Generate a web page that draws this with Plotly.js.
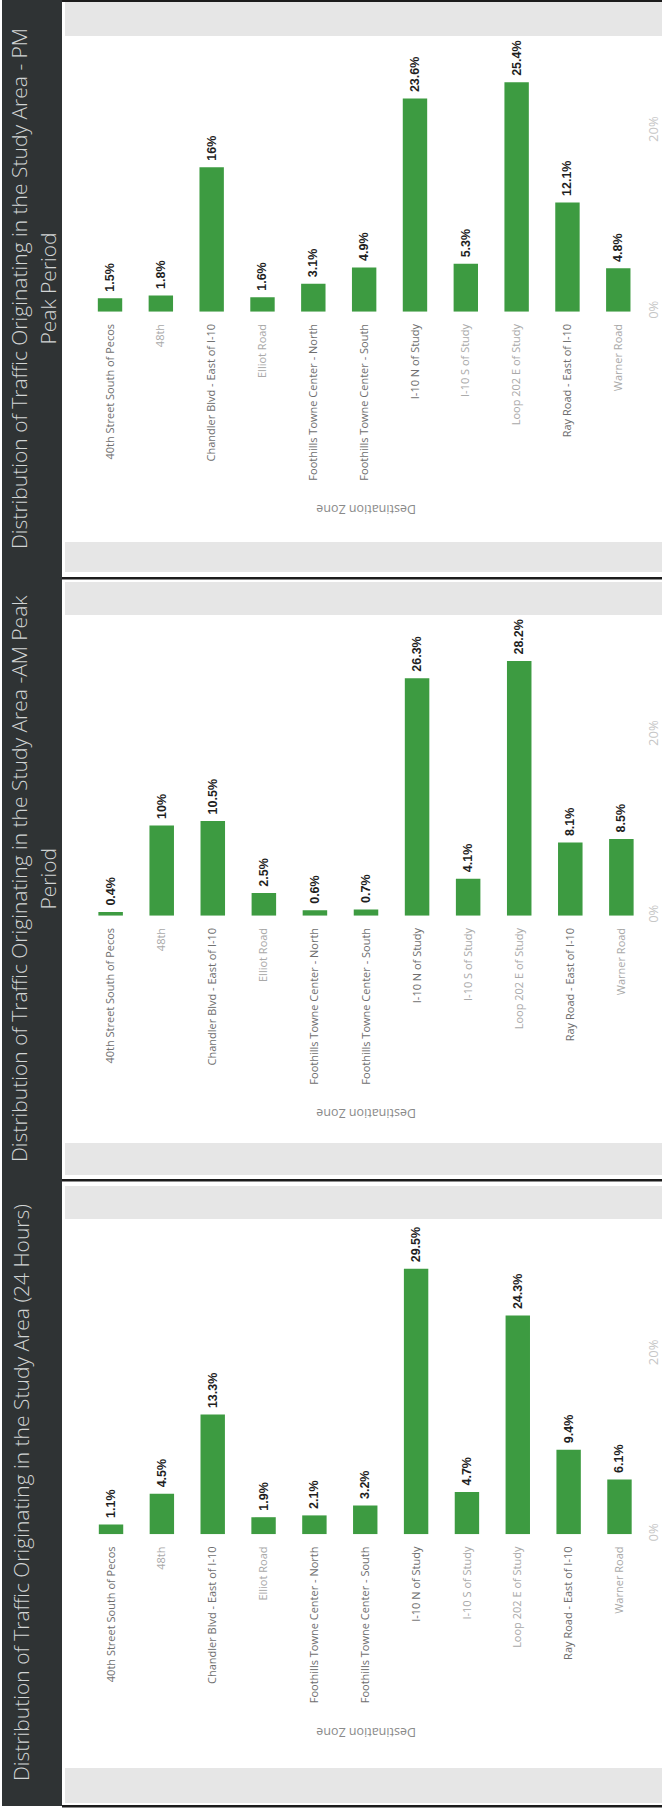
<!DOCTYPE html>
<html><head><meta charset="utf-8">
<script src="https://cdn.plot.ly/plotly-3.0.1.min.js"></script>
<style>html,body{margin:0;padding:0;background:#fff;} #chart{width:662px;height:1808px;}</style>
</head><body><div id="chart"></div>
<script>
// ---- data ----
const categories = ["40th Street South of Pecos", "48th", "Chandler Blvd - East of I-10", "Elliot Road",
  "Foothills Towne Center - North", "Foothills Towne Center - South", "I-10 N of Study", "I-10 S of Study",
  "Loop 202 E of Study", "Ray Road - East of I-10", "Warner Road"];
const pmPeakShare = [1.5, 1.8, 16, 1.6, 3.1, 4.9, 23.6, 5.3, 25.4, 12.1, 4.8];
const amPeakShare = [0.4, 10, 10.5, 2.5, 0.6, 0.7, 26.3, 4.1, 28.2, 8.1, 8.5];
const allDayShare = [1.1, 4.5, 13.3, 1.9, 2.1, 3.2, 29.5, 4.7, 24.3, 9.4, 6.1];
const pmTitle = ["Distribution of Traffic Originating in the Study Area - PM", "Peak Period"];
const amTitle = ["Distribution of Traffic Originating in the Study Area -AM Peak", "Period"];
const allDayTitle = ["Distribution of Traffic Originating in the Study Area (24 Hours)"];
const axisTitle = "Destination Zone";
const valueTicks = [0, 20];

// ---- layout helpers (pixel -> paper) ----
const W = 662, H = 1808;
const px = x => x / W;
const py = y => 1 - y / H;

const panels = [
  {vals: pmPeakShare, title: pmTitle, top: 0, bottom: 578, band1: [2, 36], band2: [542, 572],
   base: 311.7, plotTop: 36, x0: 84.6, x1: 643.7, ppp: 9.03},
  {vals: amPeakShare, title: amTitle, top: 578, bottom: 1180, band1: [582, 615], band2: [1143, 1175],
   base: 915.7, plotTop: 615, x0: 85.1, x1: 646.9, ppp: 9.03},
  {vals: allDayShare, title: allDayTitle, top: 1180, bottom: 1806, band1: [1186, 1219], band2: [1768, 1803],
   base: 1534.3, plotTop: 1219, x0: 85.6, x1: 644.9, ppp: 9.0}
];

// label shading as seen in the scanned reference (styling only)
const lightLabel = new Set([1, 3, 7, 8, 10]);
const shadedTickText = categories.map((c, i) =>
  '<span style="color:' + (lightLabel.has(i) ? '#a9a9a9' : '#6e6e6e') + '">' + c + '</span>');

const GREEN = '#3d9b41';
const data = [];
const layout = {
  width: W, height: H, margin: {l: 0, r: 0, t: 0, b: 0},
  paper_bgcolor: '#ffffff', plot_bgcolor: 'rgba(0,0,0,0)',
  showlegend: false, bargap: 0.52,
  shapes: [], annotations: []
};

// dark header strip
layout.shapes.push({type: 'rect', xref: 'paper', yref: 'paper', x0: px(2), x1: px(62), y0: py(1806), y1: py(0),
  fillcolor: '#2f3334', line: {width: 0}, layer: 'below'});

panels.forEach((p, i) => {
  const n = i === 0 ? '' : String(i + 1);
  data.push({
    type: 'bar', x: categories, y: p.vals, xaxis: 'x' + n, yaxis: 'y' + n,
    marker: {color: GREEN, line: {width: 0}},
    texttemplate: '\u00a0%{y}%', textposition: 'outside', textangle: -90,
    textfont: {family: 'Liberation Sans', size: 12.5, color: '#1e1e1e', weight: 'bold'},
    constraintext: 'none', cliponaxis: false, hoverinfo: 'skip'
  });
  const rangeMax = (p.base - p.plotTop) / p.ppp;
  layout['xaxis' + n] = {
    domain: [px(p.x0), px(p.x1)], anchor: 'y' + n, type: 'category',
    tickmode: 'array', tickvals: categories, ticktext: shadedTickText,
    tickangle: -90, ticks: '', showline: false, showgrid: false, zeroline: false,
    ticklabelstandoff: 9, automargin: false,
    tickfont: {family: 'Open Sans', size: 11, color: '#7a7a7a'}
  };
  layout['yaxis' + n] = {
    domain: [py(p.base), py(p.plotTop)], range: [0, rangeMax], anchor: 'free', side: 'right',
    position: px(644), showgrid: false, zeroline: false, showline: false,
    tickmode: 'array', tickvals: valueTicks, ticktext: valueTicks.map(v => v + '%'),
    tickangle: -90, ticks: '', automargin: false,
    tickfont: {family: 'Open Sans', size: 13, color: '#c6c6c6'}
  };
  // grey bands and separator line
  [p.band1, p.band2].forEach(b => layout.shapes.push({type: 'rect', xref: 'paper', yref: 'paper',
    x0: px(65), x1: px(662), y0: py(b[1]), y1: py(b[0]), fillcolor: '#e6e6e6', line: {width: 0}, layer: 'below'}));
  layout.shapes.push({type: 'rect', xref: 'paper', yref: 'paper', x0: px(62), x1: px(662),
    y0: py(p.bottom + 1.5), y1: py(p.bottom - 1), fillcolor: '#1c1c1c', line: {width: 0}, layer: 'below'});
  // rotated title
  const cy = (p.top + p.bottom) / 2;
  const tx = p.title.length === 1 ? [21] : [19, 47.5];
  p.title.forEach((t, k) => layout.annotations.push({
    xref: 'paper', yref: 'paper', x: px(tx[k]), y: py(cy), text: t, showarrow: false, textangle: -90,
    xanchor: 'center', yanchor: 'middle', font: {family: 'Open Sans', size: 21, color: '#d2d5d5', weight: 300}
  }));
  // axis title, upside down as in the rotated scan
  layout.annotations.push({xref: 'paper', yref: 'paper', x: px(366), y: py(p.base + 198), text: axisTitle,
    showarrow: false, textangle: 180, xanchor: 'center', yanchor: 'middle',
    font: {family: 'Open Sans', size: 12.5, color: '#8a8a8a'}});
});
// top line
layout.shapes.push({type: 'rect', xref: 'paper', yref: 'paper', x0: px(62), x1: px(662), y0: py(2), y1: py(0),
  fillcolor: '#1c1c1c', line: {width: 0}, layer: 'below'});

Plotly.newPlot('chart', data, layout, {staticPlot: true, displayModeBar: false});
</script>
</body></html>
